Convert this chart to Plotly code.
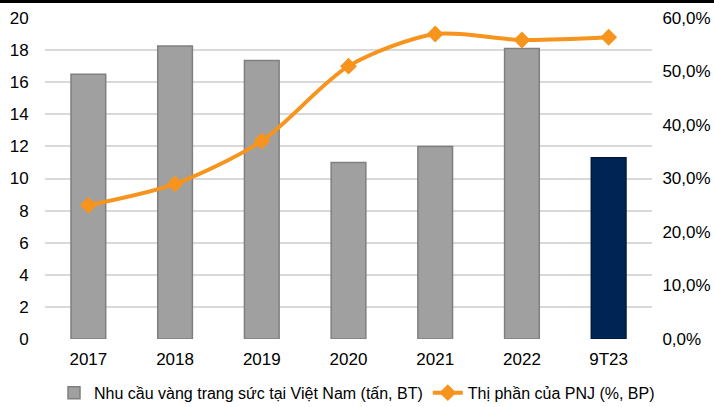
import plotly.graph_objects as go

years = ["2017", "2018", "2019", "2020", "2021", "2022", "9T23"]
demand_tonnes = [16.5, 18.25, 17.35, 11.0, 12.0, 18.1, 11.3]
pnj_share = [25.0, 29.0, 37.0, 51.0, 57.0, 55.9, 56.4]
bar_colors = ["#A0A0A0"] * 6 + ["#002554"]
bar_lines = ["#7F7F7F"] * 6 + ["#001A3C"]

FONT = "Liberation Sans, Arial, sans-serif"

fig = go.Figure()
fig.add_trace(go.Bar(
    x=years, y=demand_tonnes,
    name="Nhu cầu vàng trang sức tại Việt Nam (tấn, BT)",
    marker=dict(color=bar_colors, line=dict(color=bar_lines, width=1.5)),
    width=0.4,
))
fig.add_trace(go.Scatter(
    x=years, y=pnj_share, yaxis="y2",
    name="Thị phần của PNJ (%, BP)",
    mode="lines+markers",
    line=dict(color="#F7941D", width=4, shape="spline", smoothing=0.8),
    marker=dict(symbol="diamond", size=13, color="#F7941D"),
))

fig.update_layout(
    width=714, height=407,
    margin=dict(l=45, r=62, t=18, b=68, autoexpand=False),
    paper_bgcolor="white", plot_bgcolor="white",
    font=dict(family=FONT, size=17, color="#000000"),
    showlegend=True,
    legend=dict(orientation="h", x=0.5, xanchor="center", xref="container",
                y=0.035, yanchor="middle", yref="container",
                font=dict(size=16), itemwidth=30, traceorder="normal",
                bgcolor="rgba(0,0,0,0)"),
    xaxis=dict(showgrid=False, showline=False, ticks="outside", ticklen=5,
               tickcolor="rgba(0,0,0,0)", tickfont=dict(size=17)),
    yaxis=dict(range=[0, 20], dtick=2, showgrid=True, gridcolor="#D9D9D9", gridwidth=1.5,
               zeroline=False, ticks="outside", ticklen=12, tickcolor="rgba(0,0,0,0)",
               tickfont=dict(size=17)),
    yaxis2=dict(range=[0, 60], dtick=10, overlaying="y", side="right",
                showgrid=False, zeroline=False, ticksuffix="%", tickformat=".1f",
                ticks="outside", ticklen=6, tickcolor="rgba(0,0,0,0)",
                tickfont=dict(size=17)),
    separators=",.",
    # black rule along the top edge
    shapes=[dict(type="rect", xref="paper", yref="paper", x0=-0.08, x1=1.11,
                 y0=1.047, y1=1.056, fillcolor="black", line=dict(width=0))],
)

fig.write_html("out.html", config={"displayModeBar": False},
               post_script="document.body.style.margin='0';")
